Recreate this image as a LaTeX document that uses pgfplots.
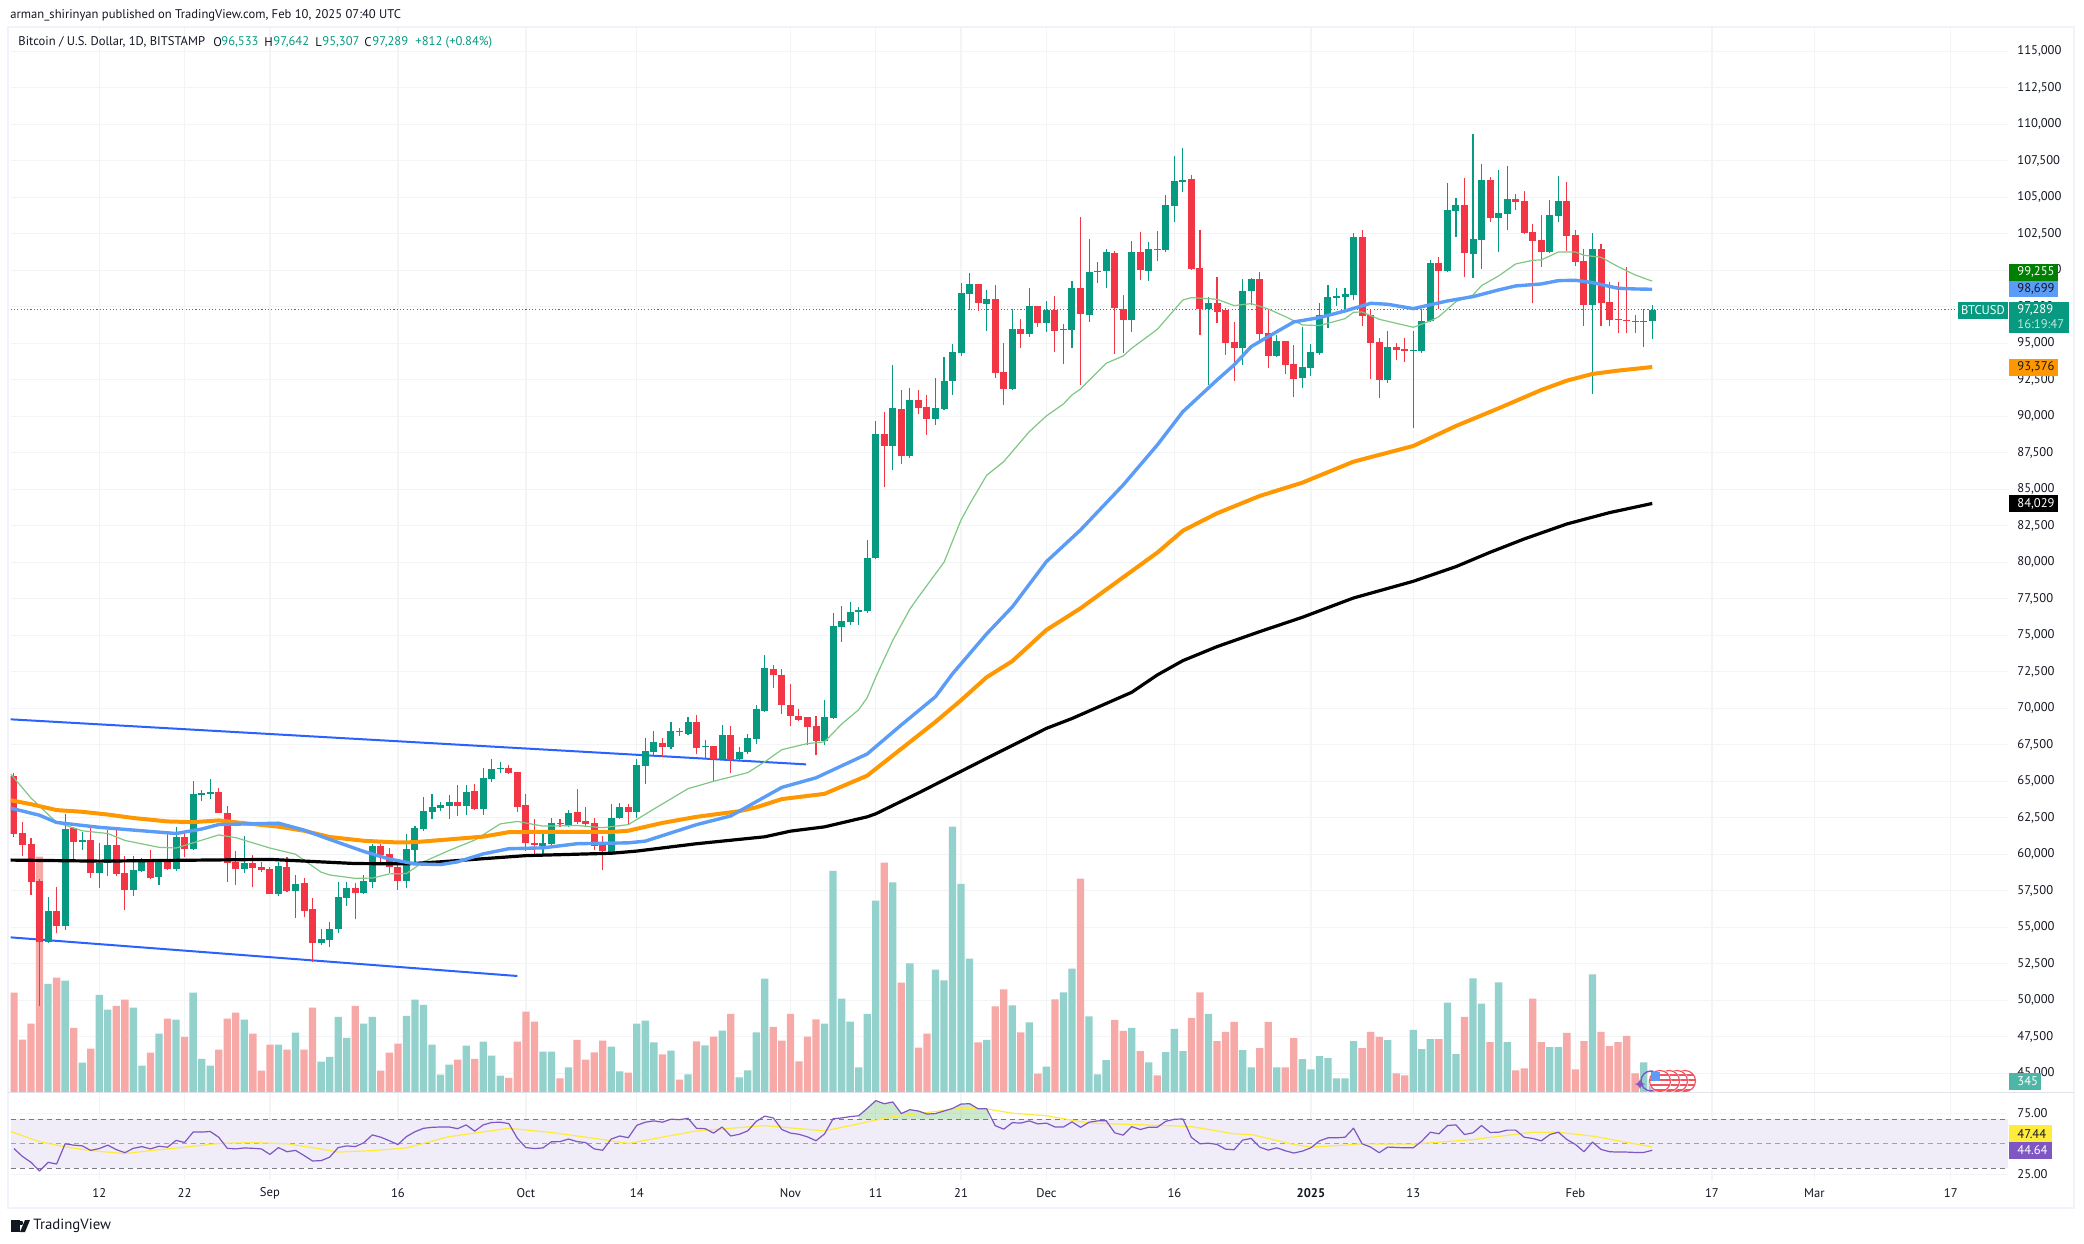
\documentclass[border=0pt]{standalone}
\usepackage{pgfplots}
\pgfplotsset{compat=1.18}
\usepackage{pgfplotstable}
\usepackage{fontspec}
\setmainfont{PT Sans}
\definecolor{cg}{HTML}{089981}
\definecolor{cr}{HTML}{F23645}
\definecolor{vg}{HTML}{93D2CC}
\definecolor{vr}{HTML}{F7A9A7}
\definecolor{gridc}{HTML}{F3F4F6}
\definecolor{framec}{HTML}{F0F3FA}
\definecolor{sepc}{HTML}{E0E3EB}
\definecolor{inkc}{HTML}{131722}
\definecolor{blueM}{HTML}{5B9CF6}
\definecolor{orangeM}{HTML}{FF9800}
\definecolor{greenM}{HTML}{81C784}
\definecolor{trend}{HTML}{2962FF}
\definecolor{rsiP}{HTML}{7E57C2}
\definecolor{rsiY}{HTML}{FFEB3B}
\definecolor{band}{HTML}{F0ECF8}
\definecolor{dashc}{HTML}{787B86}

\pgfplotstableread{
d l h b t
-6 53950 57074 54003 56106
-4 54806 62770 55090 61730
-2 60288 61517 60855 60950
0 57689 60785 58752 59414
1 58540 61682 59414 60643
4 57145 59886 57547 58918
5 58800 59721 58847 59556
7 57902 59650 58445 59556
9 58847 61848 58989 61186
11 60300 65038 60359 64140
12 63667 64400 64093 64211
13 63785 65180 64164 64282
17 58729 61257 58989 59414
21 57145 59485 57287 59201
23 55633 58587 57500 57972
26 53790 54900 53908 54192
27 53648 55349 54144 54877
28 54593 58091 54877 57074
29 56460 58091 57027 57689
31 57300 58587 57358 58162
32 57689 60714 58114 60572
36 57689 61399 58162 60359
37 59438 61942 60288 61800
38 61611 63927 61706 62982
39 62415 64140 62911 63242
40 62982 63596 63171 63384
41 62415 64069 63313 63596
43 62675 64754 63313 64282
45 62699 65936 63100 65250
46 64920 66550 65180 65865
47 65534 66338 65865 65936
52 59886 61541 60572 60785
53 60501 62486 60714 62155
55 61882 63041 61972 62833
60 60071 63427 60190 62476
61 62450 63516 62506 63219
63 62476 66516 62863 66100
64 64823 67971 66040 67080
65 66783 68446 66991 67674
67 67229 69040 67377 68446
69 68149 69397 68268 69040
71 66545 67852 67377 67436
73 66427 68862 66545 68149
75 66486 67377 66545 66991
76 66842 68238 66991 67971
77 67585 70199 67912 69931
78 69753 73644 69842 72753
85 67496 70555 67763 69397
86 69300 76525 69367 75634
87 74564 77030 75574 75960
88 75693 77267 75901 76584
89 75693 76940 76584 76732
90 76500 81500 76644 80300
91 80200 89681 80300 88791
93 86326 93517 87970 90572
95 87147 91942 87284 91120
98 89408 92627 89818 90572
99 90435 94065 90503 92421
100 91462 94955 92421 94407
101 94133 99133 94339 98448
102 97284 99818 98380 99065
104 95846 98654 97695 98037
107 91805 97352 91873 95983
109 95435 98791 95640 97558
111 95777 97900 96394 97284
113 93586 96325 95914 95983
114 94681 99270 95914 98791
116 96462 102147 96941 99887
117 99133 100572 99887 99955
118 98791 101462 99955 101256
121 95777 102010 96599 101256
123 99270 101941 99955 101462
125 101256 105160 101393 104475
126 103311 107831 104407 106119
127 105366 108379 106051 106165
130 92147 98174 97352 97763
134 93517 99407 94681 98585
135 97626 99476 98585 99407
138 94065 95572 94133 95161
141 91942 96119 92626 93380
142 92764 94955 93312 94407
143 94202 97763 94339 96941
144 96051 98996 96873 98174
145 97558 98791 98106 98243
146 97284 98791 98174 98380
147 97969 102558 98311 102284
151 92284 95846 92490 94750
154 89202 95846 94499 94545
155 94362 97352 94476 96530
156 96462 100708 96530 100503
158 99900 105982 99955 104133
159 102284 104955 104064 104475
161 99476 109338 101119 102147
162 100092 107283 102078 106188
164 101256 106872 103585 103928
165 102763 107147 103859 104886
170 101200 104818 101256 103790
171 103311 106461 103722 104749
175 91531 102558 97626 101462
181 94749 97352 96462 96530
182 95307 97642 96533 97289
}\candleup

\pgfplotstableread{
d l h b t
-10 61186 65581 61422 65369
-9 59910 62226 60643 61470
-8 57217 61092 58114 60714
-7 49608 58303 54003 58162
-5 54593 57760 55090 56106
-3 59579 61900 60855 61800
-1 58374 61942 58752 60974
2 58516 61848 58658 60643
3 56177 59886 57547 58729
6 58300 60288 58374 59556
8 58950 61470 58989 59508
10 59816 61470 60359 61186
14 62800 64542 62840 64282
15 58114 63313 59438 62840
16 57902 60241 58989 59485
18 57760 59957 59060 59414
19 58800 59461 58918 59130
20 57250 59130 57287 58989
22 57405 59792 57453 59130
24 55704 58374 56106 58043
25 52632 57004 53908 56247
30 55562 58043 57358 57689
33 59485 60714 59957 60572
34 58729 60406 59130 60028
35 57547 59296 58162 59130
42 62628 64754 63313 63596
44 63029 64825 63100 64353
48 65510 66125 65581 65936
49 62911 65652 63242 65652
50 60241 64140 60785 63384
51 60028 62415 60643 60785
54 61882 62387 62090 62150
56 62090 64466 62209 62863
57 61882 63219 62061 62269
58 60308 62476 60576 62150
59 58912 61259 60249 60635
62 62090 63427 62863 63219
66 66694 67971 67377 67615
68 68120 68624 68387 68446
70 66872 69545 67288 69040
72 65031 67407 66545 67407
74 65595 68773 66486 68149
79 71357 72990 72307 72723
80 69605 72693 70258 72307
81 68803 71654 69486 70228
82 69100 69931 69218 69456
83 67496 69397 68713 69397
84 66783 69456 67763 68773
92 85184 90298 87970 88791
94 86737 91805 87284 90503
96 90161 91805 90572 91120
97 88723 91462 89818 90640
103 97215 99065 97763 99065
105 92627 98996 92969 98037
106 90777 95024 91873 93038
108 94681 96667 95640 95983
110 96119 97558 96394 97558
112 94408 98243 95846 97284
115 92147 103653 97010 98791
119 94270 101325 97421 101188
120 94339 98311 96599 97352
122 99339 102626 100023 101256
124 100640 102695 101393 101462
128 100023 106530 100092 106256
129 95572 102763 97352 100161
131 96394 99544 97147 97763
132 94202 97421 95024 97284
133 92421 96462 94681 95092
136 95161 99887 95640 99407
137 93311 97352 94133 95708
139 92900 95161 93517 95161
140 91326 94887 92558 93585
148 96188 102763 96873 102284
149 92558 97284 95024 96941
150 91257 95366 92490 95092
152 93859 95024 94545 94750
153 93722 95366 94476 94613
157 97352 100914 99955 100503
160 99544 106325 101188 104475
163 103311 106393 103585 106188
166 104133 105229 104681 104886
167 102489 105434 102558 104749
168 97763 103174 102010 102626
169 100229 103790 101256 102078
172 101325 106051 102352 104749
173 100297 102763 100571 102421
174 96188 101462 97626 100640
176 96188 101804 97763 101462
177 96188 99202 96599 97832
178 95709 99202 96599 96667
179 95709 100229 96530 96599
180 95709 96941 96462 96530
}\candledown

\pgfplotstableread{
d v
-6 2939
-4 3022
-2 809
0 2641
1 2241
4 2297
5 725
7 1590
9 1972
11 2697
12 911
13 725
17 1972
21 1293
23 1618
26 837
27 967
28 2046
29 1479
31 1860
32 2046
36 2074
37 2511
38 2372
39 1293
40 484
41 753
43 1265
45 1376
46 995
47 456
52 1107
53 1107
55 679
60 1240
61 573
63 1860
64 1942
65 1357
67 1135
69 491
71 1275
73 1673
75 410
76 597
77 1626
78 3077
85 1860
86 5990
87 2539
88 1919
89 679
90 2129
91 5183
93 5675
95 3487
98 3323
99 3030
100 7184
101 5639
102 3615
104 1427
107 2352
109 1895
111 702
113 2703
114 3346
116 2059
117 491
118 874
121 1747
123 819
125 1092
126 1720
127 1119
130 2129
134 1147
135 683
138 683
141 901
142 628
143 983
144 928
145 382
146 382
147 1392
151 1420
154 1693
155 1174
156 1447
158 2430
159 1037
161 3085
162 2402
164 2976
165 1365
170 1229
171 1229
175 3194
181 819
182 345
}\volup

\pgfplotstableread{
d v
-10 2697
-9 1432
-8 1860
-7 6370
-5 3106
-3 1748
-1 1190
2 2344
3 2511
6 1079
8 2000
10 1507
14 1162
15 2000
16 2158
18 1590
19 595
20 1293
22 1162
24 1162
25 2297
30 2344
33 595
34 1079
35 1321
42 893
44 911
48 400
49 1376
50 2186
51 1916
54 386
56 1427
57 889
58 1088
59 1404
62 538
66 1030
68 351
70 1381
72 1509
74 2129
79 1778
80 1404
81 2129
82 842
83 1509
84 1977
92 6213
94 2972
96 1217
97 1591
103 1357
105 2328
106 2785
108 1626
110 515
112 2516
115 5780
119 1966
120 1665
122 1119
124 464
128 2020
129 2703
131 1392
132 1638
133 1911
136 1201
137 1911
139 683
140 1474
148 1201
149 1638
150 1502
152 519
153 464
157 1447
160 2048
163 1365
166 601
167 655
168 2539
169 1365
172 1611
173 628
174 1392
176 1638
177 1256
178 1365
179 1529
180 519
}\voldown

\pgfplotstableread{
d r
-10 46.1
-9 39.6
-8 34.8
-7 27.7
-6 34.8
-5 33.4
-4 50
-3 48.9
-2 48.3
-1 44.6
0 46.1
1 48.9
2 45.2
3 42.7
4 46.3
5 47.7
6 45.8
7 48
8 47.2
9 52.8
10 51.1
11 59.6
12 59.6
13 60.1
14 55.4
15 46.3
16 45.8
17 46.6
18 46.3
19 45.8
20 41.3
21 46.9
22 43.5
23 44.6
24 40.4
25 35.9
26 36.2
27 39
28 46.9
29 48.3
30 47.7
31 50.8
32 57.3
33 55.4
34 52.5
35 49.4
36 55.9
37 59.9
38 62.7
39 63.5
40 63.8
41 63.8
42 62.4
43 65.5
44 60.4
45 65.5
46 67.5
47 67.7
48 66.6
49 54.5
50 46.9
51 46.1
52 46.6
53 51.7
54 51.8
55 53.9
56 51.8
57 51
58 45.8
59 44.7
60 53.9
61 56.4
62 55
63 65.2
64 67.7
65 68.8
66 67.7
67 70.2
68 69.8
69 70.9
70 62.7
71 62.4
72 58.8
73 63.8
74 56.4
75 57.8
76 60.6
77 68.4
78 72.7
79 71.2
80 61.7
81 58.8
82 57.8
83 55.7
84 52.5
85 58.1
86 70.5
87 71.2
88 72.3
89 73
90 79
91 85.4
92 82.9
93 84.3
94 74.8
95 78
96 76.9
97 74.4
98 74.8
99 76.9
100 79
101 82.6
102 82.9
103 78.7
104 78.7
105 64.9
106 62
107 67.3
108 67
109 68.8
110 66.3
111 67
112 63.8
113 63.8
114 68
115 63.5
116 67.7
117 68.8
118 69
119 59
120 57.1
121 64.1
122 61.7
123 63.6
124 63.6
125 68.5
126 70.1
127 70.4
128 55.2
129 50
130 50.5
131 49.5
132 45.6
133 45.1
134 53
135 54.4
136 47.3
137 44.8
138 46.7
139 44.3
140 42.4
141 44
142 46.7
143 52.4
144 54.9
145 54.9
146 55.4
147 62.8
148 50
149 47.3
150 42.7
151 47.3
152 47
153 46.7
154 46.7
155 52.2
156 59.5
157 58.2
158 65
159 65.5
160 57.6
161 59
162 65
163 59.3
164 59.5
165 61.2
166 61.2
167 55.4
168 54.4
169 52.4
170 57.6
171 59.5
172 53.5
173 49.5
174 43.5
175 51.4
176 45.4
177 43.5
178 43.2
179 43.2
180 42.9
181 42.9
182 44.64
}\rsi

\newcommand\lab[7]{\fill[#5] (#1,#2) rectangle (#3,#4);\node[text=#6,anchor=west,inner sep=0pt] at (2017,{(#2+#4)/2}) {#7};}
\newcommand\flag[2]{\begin{scope}
\fill[white] (#1,#2) circle (11.5);
\clip (#1,#2) circle (10.5);
\fill[white] (#1,#2) circle (10.5);
\fill[cr!85] (#1-11,#2-7) rectangle (#1+11,#2-4.5);
\fill[cr!85] (#1-11,#2-2) rectangle (#1+11,#2+0.5);
\fill[cr!85] (#1-11,#2+3) rectangle (#1+11,#2+5.5);
\fill[cr!85] (#1-11,#2+8) rectangle (#1+11,#2+10.5);
\end{scope}\draw[cr!85,line width=.6pt] (#1,#2) circle (10.5);}

\pgfplotsset{base/.style={
  scale only axis, width=998.65pt, anchor=south west, xmin=-10.38, xmax=223.7,
  axis line style={draw=none}, major tick length=0pt, tick style={draw=none},
  xtick={0,10,20,35,50,63,81,91,101,111,126,142,154,173,189,201,217},
  clip=true},
  cdl/.style={draw=none,mark=none,error bars/.cd,y dir=plus,y explicit,error mark=none}}

\begin{document}
\begin{tikzpicture}
\useasboundingbox (0,0) rectangle (1042pt,621.5pt);
\fill[white] (0,0) rectangle (1042pt,621.5pt);

% grid and price scale
\begin{axis}[base, at={(5.35pt,75.2pt)}, height=533.3pt,
  ymin=43678, ymax=116733, ytick distance=2500,
  xticklabels={}, grid=major, grid style={gridc,line width=.6pt},
  ymajorgrids, xmajorgrids, ytick pos=right, yticklabel pos=right,
  scaled y ticks=false,
  /pgf/number format/fixed, /pgf/number format/precision=0,
  /pgf/number format/1000 sep={,}, /pgf/number format/assume math mode=true,
  every y tick label/.style={font=\fontsize{6.3}{7}\selectfont,text=inkc,anchor=west,inner sep=0pt,xshift=4.5pt}]
\addplot[draw=none] coordinates {(0,60000)(1,60000)};
\end{axis}

% volume
\begin{axis}[base, at={(5.35pt,75.2pt)}, height=533.3pt,
  ymin=0, ymax=28800, xtick=\empty, ytick=\empty]
\addplot[ybar, bar width=3.65pt, bar shift=0pt, draw=none, fill=vg] table[x=d,y=v]{\volup};
\addplot[ybar, bar width=3.65pt, bar shift=0pt, draw=none, fill=vr] table[x=d,y=v]{\voldown};
\end{axis}

% price
\begin{axis}[base, at={(5.35pt,75.2pt)}, height=533.3pt,
  ymin=43678, ymax=116733, xtick=\empty, ytick=\empty]
% trend channel
\addplot[trend,line width=1pt] coordinates {(-10.38,69244)(82.85,66159)};
\addplot[trend,line width=1pt] coordinates {(-10.38,54310)(49,51663)};
% current price
\addplot[cg,line width=.55pt,dash pattern=on .55pt off 1.1pt] coordinates {(-10.38,97289)(223.7,97289)};
% wicks
\addplot[cdl,error bar style={cg,line width=.55pt}]
  table[x=d,y=l,y error plus expr=\thisrow{h}-\thisrow{l}]{\candleup};
\addplot[cdl,error bar style={cr,line width=.55pt}]
  table[x=d,y=l,y error plus expr=\thisrow{h}-\thisrow{l}]{\candledown};
% bodies
\addplot[cdl,error bar style={cg,line width=3.5pt}]
  table[x=d,y=b,y error plus expr=\thisrow{t}-\thisrow{b}]{\candleup};
\addplot[cdl,error bar style={cr,line width=3.5pt}]
  table[x=d,y=b,y error plus expr=\thisrow{t}-\thisrow{b}]{\candledown};
% moving averages
\addplot[greenM,line width=.6pt,line join=round] coordinates {
(-10.38,65500)(-8,63856)(-5,62179)(-2,61611)(1,61423)(3,60950)(7,60477)(9,60430)(11,60785)(14,61328)(16,61139)(20,60430)(23,60005)(26,58776)(27,58587)(30,58351)(32,58374)(34,58658)(36,58681)(38,59485)(41,60264)(44,60973)(47,62084)(49,62250)(52,61930)(56,61972)(59,61823)(62,62031)(65,63100)(69,64496)(72,64999)(76,65595)(78,66338)(80,67169)(83,67585)(85,67704)(87,68921)(89,69901)(90,70733)(91,72129)(93,74654)(95,76792)(96,77623)(99,80000)(101,82901)(102,83974)(104,85960)(106,86896)(109,88950)(111,90024)(113,90846)(114,91462)(115,91873)(118,93631)(120,94133)(121,94658)(124,95960)(127,97969)(128,98129)(131,98015)(133,97581)(135,97718)(137,97352)(139,96828)(141,96257)(143,96211)(146,96690)(147,97124)(148,97147)(150,96645)(154,96097)(156,96530)(157,96828)(159,97855)(161,98311)(162,98951)(164,99613)(166,100435)(168,100685)(169,100708)(171,101256)(173,101256)(174,101028)(176,100891)(178,100252)(180,99681)(182,99255)};
\addplot[black,line width=1.6pt,line join=round] coordinates {
(-10.38,59603)(0,59532)(20,59650)(30,59367)(36,59343)(40,59485)(50,59910)(60,60071)(63,60220)(70,60724)(78,61200)(81,61585)(85,61880)(90,62566)(91,62773)(96,64199)(101,65684)(104,66575)(111,68624)(114,69300)(121,71096)(124,72284)(127,73265)(131,74224)(136,75251)(141,76233)(147,77557)(154,78699)(159,79703)(163,80685)(167,81598)(172,82625)(177,83402)(182,84029)};
\addplot[orangeM,line width=2pt,line join=round] coordinates {
(-10.38,63700)(-8,63431)(-5,63029)(-2,62911)(1,62722)(4,62486)(8,62250)(11,62202)(14,62320)(17,62131)(21,61895)(24,61612)(27,61186)(31,60926)(35,60808)(37,60832)(41,61021)(45,61210)(48,61517)(53,61541)(60,61526)(62,61615)(66,62150)(70,62566)(75,62952)(77,63219)(80,63783)(85,64140)(90,65387)(94,67229)(98,69070)(101,70555)(104,72129)(107,73228)(111,75366)(115,76849)(120,78973)(124,80662)(127,82169)(131,83356)(136,84543)(141,85456)(147,86895)(154,87968)(159,89338)(164,90547)(169,91803)(172,92444)(175,92900)(178,93129)(182,93376)};
\addplot[blueM,line width=1.7pt,line join=round] coordinates {
(-10.38,63160)(-7,62675)(-5,62179)(0,61848)(4,61659)(9,61423)(12,61730)(14,62037)(21,62131)(24,61659)(27,61021)(31,60194)(34,59674)(37,59343)(40,59296)(42,59485)(45,60028)(48,60383)(52,60440)(56,60724)(62,60784)(64,60902)(70,62031)(74,62625)(77,63605)(80,64585)(84,65239)(90,66872)(94,68862)(98,70793)(100,72367)(104,75100)(107,76940)(111,80045)(115,82215)(120,85297)(124,88036)(127,90319)(131,92488)(133,93517)(135,94772)(137,95457)(140,96462)(143,96759)(146,97215)(149,97740)(151,97672)(154,97375)(158,97900)(161,98197)(164,98654)(166,98928)(169,99065)(171,99293)(173,99316)(175,99156)(178,98768)(180,98722)(182,98699)};
\end{axis}

% RSI pane
\begin{axis}[base, at={(5.35pt,31.5pt)}, height=43.7pt,
  ymin=20.3, ymax=92, ytick={25,75}, yticklabels={25.00,75.00},
  ymajorgrids, xmajorgrids, grid style={gridc,line width=.6pt},
  ytick pos=right, yticklabel pos=right, xtick pos=bottom,
  xticklabels={12,22,Sep,16,Oct,14,Nov,11,21,Dec,16,\textbf{2025},13,Feb,17,Mar,17},
  every y tick label/.style={font=\fontsize{6.3}{7}\selectfont,text=inkc,anchor=west,inner sep=0pt,xshift=4.5pt},
  every x tick label/.style={font=\fontsize{6.3}{7}\selectfont,text=inkc,anchor=center,inner sep=0pt,yshift=-6.5pt}]
\addplot[band,fill=band,draw=none] coordinates {(-10.38,30)(223.7,30)(223.7,70)(-10.38,70)} -- cycle;
\addplot[draw=none,fill=greenM,fill opacity=.4] coordinates {(89,70)(89,73)(90,79)(91,85.4)(92,82.9)(93,84.3)(94,74.8)(95,78)(96,76.9)(97,74.4)(98,74.8)(99,76.9)(100,79)(101,82.6)(102,82.9)(103,78.7)(104,78.7)(104.4,70)} -- cycle;
\addplot[dashc,line width=.5pt,dash pattern=on 2.5pt off 2pt] coordinates {(-10.38,70)(223.7,70)};
\addplot[dashc!70,line width=.5pt,dash pattern=on 2.5pt off 2pt] coordinates {(-10.38,50)(223.7,50)};
\addplot[dashc,line width=.5pt,dash pattern=on 2.5pt off 2pt] coordinates {(-10.38,30)(223.7,30)};
\addplot[rsiY,line width=.6pt,line join=round] coordinates {
(-10.38,60.1)(-7,51.7)(-4,47.5)(-1,44.4)(3,42)(6,44.4)(10,47.2)(14,50.3)(18,51)(22,50)(25,46.9)(28,43.2)(32,44.4)(36,46.6)(41,55.9)(48,62.7)(53,59.3)(59,53.5)(62,50.3)(70,60.6)(78,64.9)(85,60.6)(93,72.3)(101,79)(104,78.7)(107,75.1)(111,73)(116,67)(126,64.7)(128,64.1)(133,58.2)(135,57.6)(140,49.5)(142,47.3)(146,48.9)(148,50)(154,49.7)(161,53.5)(168,59.5)(171,59.5)(175,56.3)(182,47.44)};
\addplot[rsiP,line width=.6pt,line join=round] table[x=d,y=r]{\rsi};
\end{axis}

\begin{scope}[x=0.5pt,y=-0.5pt,shift={(0,621.5pt)},font=\fontsize{6.3}{7}\selectfont]
% frame
\draw[framec,line width=1pt] (8,26.7) rectangle (2074,1208);
\draw[sepc,line width=.6pt] (8,1092.6) -- (2074,1092.6);
% header
\node[anchor=west,inner sep=0pt,text=inkc] at (10,15) {arman\_shirinyan published on TradingView.com, Feb 10, 2025 07:40 UTC};
\node[anchor=west,inner sep=0pt,text=inkc] at (18,42) {Bitcoin / U.S. Dollar, 1D, BITSTAMP};
\node[anchor=west,inner sep=0pt,text=inkc] at (213,42) {O}; \node[anchor=west,inner sep=0pt,text=cg] at (221,42) {96,533};
\node[anchor=west,inner sep=0pt,text=inkc] at (264,42) {H}; \node[anchor=west,inner sep=0pt,text=cg] at (273,42) {97,642};
\node[anchor=west,inner sep=0pt,text=inkc] at (315,42) {L}; \node[anchor=west,inner sep=0pt,text=cg] at (322,42) {95,307};
\node[anchor=west,inner sep=0pt,text=inkc] at (364,42) {C}; \node[anchor=west,inner sep=0pt,text=cg] at (372,42) {97,289};
\node[anchor=west,inner sep=0pt,text=cg] at (415,42) {+812 (+0.84\%)};
% value boxes
\lab{2009}{264}{2058}{280.7}{green!50!black}{white}{99,255}
\lab{2009}{280.7}{2058}{297.3}{blueM}{inkc}{98,699}
\fill[cg] (1958,302) rectangle (2008,318.7);
\node[text=white,inner sep=0pt] at (1983,310.3) {BTCUSD};
\fill[cg] (2009,302) rectangle (2069,332.7);
\node[text=white,anchor=west,inner sep=0pt] at (2017,310) {97,289};
\node[text=white!75!cg,anchor=west,inner sep=0pt] at (2017,324) {16:19:47};
\lab{2009}{359}{2058}{375.7}{orangeM}{inkc}{93,376}
\lab{2009}{495.3}{2058}{512}{black}{white}{84,029}
\lab{2009}{1073}{2041}{1089.7}{vg!50!cg}{white}{345}
\lab{2009}{1125.3}{2052}{1142}{rsiY}{inkc}{47.44}
\lab{2009}{1142}{2052}{1158.7}{rsiP}{white}{44.64}
% event icons
\flag{1685}{1081}
\flag{1677}{1081}
\flag{1669}{1081}
\draw[rsiP,line width=.7pt] (1651,1081) circle (10);
\flag{1660}{1081}
\fill[blueM] (1651,1072) rectangle (1660,1081);
\node[text=rsiP,inner sep=0pt,font=\fontsize{8}{8}\selectfont] at (1640,1085) {\fontspec{DejaVu Sans}✦};
% logo
\fill[inkc] (11,1220) rectangle (20,1232);
\fill[inkc] (21,1223) circle (2.2);
\fill[inkc] (25,1220) -- (30,1220) -- (25,1232) -- (20,1232) -- cycle;
\node[anchor=west,inner sep=0pt,text=inkc,font=\fontsize{7.4}{8}\selectfont] at (33,1226) {TradingView};
\end{scope}
\end{tikzpicture}
\end{document}
